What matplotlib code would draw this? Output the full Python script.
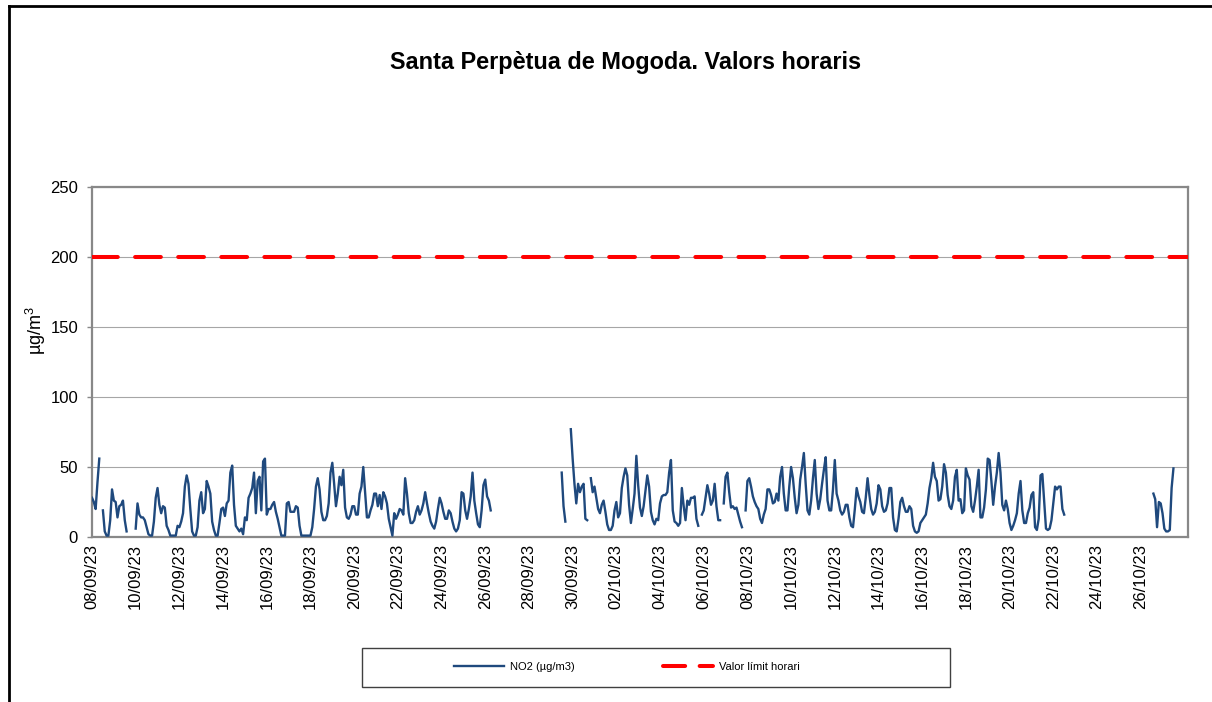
import numpy as np
import pandas as pd
import matplotlib
matplotlib.use('Agg')
import matplotlib.pyplot as plt
from matplotlib.lines import Line2D
from matplotlib.patches import Rectangle

plt.rcParams['font.family'] = ['Liberation Sans', 'DejaVu Sans']

nan = np.nan

# Valors NO2 cada 2 hores (µg/m3), llegits del gràfic
inici_1 = '2023-09-08 00:00'
no2_1 = [
    28, 25, 20, 39, 56, nan, 19, 4, 1, 1, 12, 34,
    26, 25, 14, 22, 23, 26, 12, 4, nan, nan, nan, nan,
    6, 24, 16, 14, 14, 12, 7, 2, 1, 1, 11, 28,
    35, 23, 17, 22, 21, 8, 5, 1, 1, 1, 1, 8,
    7, 11, 17, 36, 44, 38, 20, 4, 1, 1, 7, 26,
    32, 17, 20, 40, 36, 31, 11, 5, 1, 1, 10, 20,
    21, 15, 24, 26, 46, 51, 23, 8, 6, 4, 6, 2,
    14, 12, 28, 31, 35, 46, 17, 40, 43, 19, 54, 56,
    16, 20, 20, 23, 25, 18, 13, 7, 1, 1, 1, 24,
    25, 18, 18, 18, 22, 21, 8, 1, 1, 1, 1, 1,
    1, 7, 20, 36, 42, 34, 18, 12, 12, 15, 24, 46,
    53, 38, 22, 31, 43, 37, 48, 21, 14, 13, 16, 22,
    22, 16, 16, 31, 36, 50, 32, 14, 14, 19, 23, 31,
    31, 22, 30, 20, 32, 29, 24, 13, 7, 1, 17, 13,
    16, 20, 19, 16, 42, 31, 17, 10, 10, 12, 18, 22,
    16, 19, 24, 32, 24, 17, 11, 8, 6, 11, 20, 28,
    24, 18, 13, 13, 19, 17, 11, 6, 4, 6, 12, 32,
    31, 19, 13, 20, 29, 46, 26, 17, 9, 7, 19, 37,
    41, 29, 26, 19,
]

inici_2 = '2023-09-29 12:00'
no2_2 = [
    46, 22, 11, nan, nan, 77,
    56, 38, 24, 38, 32, 36, 38, 13, 12, nan, 42, 32,
    36, 28, 20, 17, 23, 26, 18, 9, 5, 5, 8, 19,
    25, 14, 17, 35, 43, 49, 44, 23, 10, 20, 31, 58,
    37, 21, 15, 22, 33, 44, 36, 18, 12, 9, 13, 12,
    24, 29, 30, 30, 32, 46, 55, 19, 11, 10, 8, 10,
    35, 22, 12, 26, 23, 28, 28, 29, 13, 8, nan, 16,
    19, 28, 37, 31, 23, 26, 38, 22, 12, 12, nan, 24,
    43, 46, 32, 21, 22, 20, 21, 16, 11, 7, nan, 19,
    40, 42, 36, 29, 25, 22, 20, 13, 10, 16, 20, 34,
    34, 30, 24, 25, 31, 26, 43, 50, 31, 19, 19, 36,
    50, 42, 28, 17, 23, 41, 50, 60, 38, 19, 16, 26,
    42, 55, 31, 20, 27, 38, 48, 57, 26, 19, 19, 34,
    55, 31, 26, 19, 16, 18, 23, 23, 14, 8, 7, 20,
    35, 29, 25, 18, 17, 28, 42, 30, 20, 16, 18, 24,
    37, 34, 22, 18, 19, 24, 35, 35, 14, 5, 4, 13,
    25, 28, 22, 18, 18, 22, 20, 8, 4, 3, 4, 10,
    12, 14, 16, 24, 35, 42, 53, 43, 40, 26, 27, 36,
    52, 46, 30, 22, 20, 26, 43, 48, 26, 27, 17, 19,
    49, 44, 41, 22, 18, 26, 36, 48, 14, 14, 21, 34,
    56, 55, 40, 23, 36, 46, 60, 46, 23, 19, 26, 20,
    10, 5, 8, 12, 17, 31, 40, 19, 10, 10, 17, 21,
    30, 32, 7, 5, 13, 44, 45, 26, 6, 5, 6, 12,
    24, 36, 34, 36, 36, 20, 16,
]

inici_3 = '2023-10-26 14:00'
no2_3 = [31, 27, 7, 25, 24, 17, 6, 4, 4, 5, 35, 49]

valor_limit = 200
titol = 'Santa Perpètua de Mogoda. Valors horaris'

# Construir la serie temporal
trams = []
for inici, vals in [(inici_1, no2_1), (inici_2, no2_2), (inici_3, no2_3)]:
    idx = pd.date_range(inici, periods=len(vals), freq='2h')
    trams.append(pd.Series(vals, index=idx, dtype=float))
    # un buit entre trams
    trams.append(pd.Series([nan], index=[idx[-1] + pd.Timedelta(hours=1)]))
serie = pd.concat(trams)

fig = plt.figure(figsize=(12.12, 7.02), dpi=100)
ax = fig.add_axes([92 / 1212, 1 - 537 / 702, (1188 - 92) / 1212, (537 - 187) / 702])

linia_no2, = ax.plot(serie.index, serie.values, color='#1F497D', lw=1.7,
                     label='NO2 (µg/m3)', zorder=3)
ax.axhline(valor_limit, color='#FF0000', lw=2.9, dash_capstyle='round',
           linestyle=(0, (6.4, 4.3)), zorder=4)

ax.set_ylim(0, 250)
ax.set_yticks([0, 50, 100, 150, 200, 250])
ax.set_xlim(pd.Timestamp('2023-09-08 00:00'), pd.Timestamp('2023-10-28 04:00'))
ticks = pd.date_range('2023-09-08', '2023-10-26', freq='2D')
ax.set_xticks(ticks)
ax.set_xticklabels([t.strftime('%d/%m/%y') for t in ticks], rotation=90)
ax.tick_params(axis='both', labelsize=12, colors='#888888', labelcolor='black',
               length=3.5, width=1)
ax.tick_params(axis='y', pad=6.5)
ax.tick_params(axis='x', pad=5, length=0)

ax.grid(axis='y', color='#A6A6A6', lw=0.8)
ax.set_axisbelow(True)
for s in ax.spines.values():
    s.set_color('#888888')
    s.set_linewidth(1.6)

ax.set_ylabel('µg/m$^\\mathregular{3}$', fontsize=13)
ax.yaxis.set_label_coords((48 - 92) / 1096, (537 - 330) / 350)

fig.text(626 / 1212, 1 - 62 / 702, titol, ha='center', va='center',
         fontsize=16.9, fontweight='bold')

# llegenda
ma_limit = Line2D([], [], color='#FF0000', lw=2.9, dash_capstyle='round',
                  linestyle=(0, (5.5, 3.6)))
fig.add_artist(Rectangle((362 / 1212, 1 - 687 / 702), 588 / 1212, 39 / 702,
                         transform=fig.transFigure, fill=False,
                         edgecolor='#404040', lw=1))
fig.legend([linia_no2, ma_limit], ['NO2 (µg/m3)', 'Valor límit horari'],
           loc='center', bbox_to_anchor=(627 / 1212, 1 - 667 / 702),
           ncol=2, frameon=False, fontsize=8, handlelength=4.5,
           handletextpad=0.5, columnspacing=8)

# marc exterior
fig.add_artist(Line2D([8.5 / 1212, 8.5 / 1212], [0, 1 - 5.5 / 702],
                      transform=fig.transFigure, color='black', lw=2))
fig.add_artist(Line2D([8.5 / 1212, 1], [1 - 5.5 / 702, 1 - 5.5 / 702],
                      transform=fig.transFigure, color='black', lw=2))

fig.savefig('out.png', dpi=100)
